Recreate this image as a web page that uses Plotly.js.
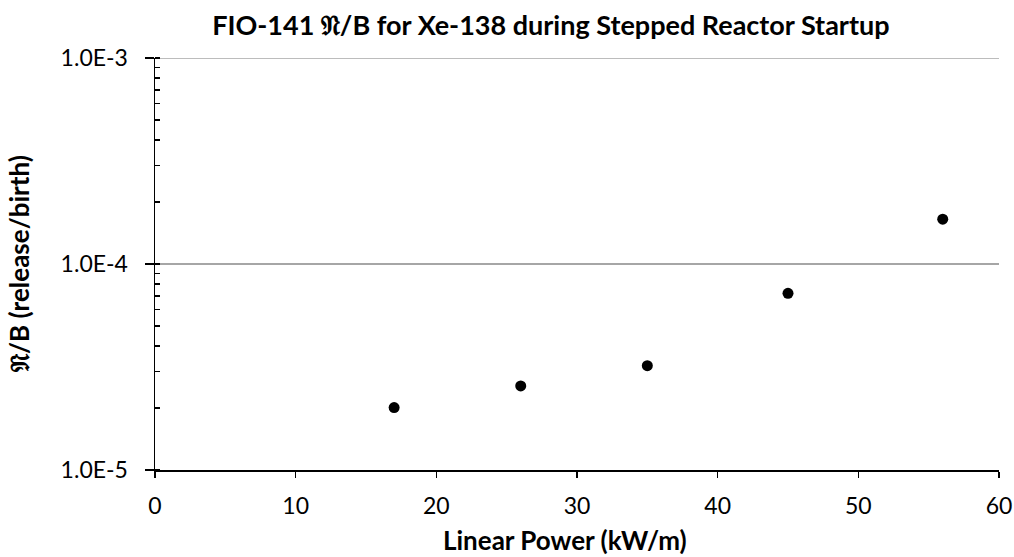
<!DOCTYPE html>
<html>
<head>
<meta charset="utf-8">
<script src="https://cdn.plot.ly/plotly-3.0.1.min.js"></script>
<style>html,body{margin:0;padding:0;background:#fff;}#chart{width:1014px;height:557px;}</style>
</head>
<body>
<div id="chart"></div>
<script>
const linearPower = [17, 26, 35, 45, 56];
const releaseBirth = [2.01e-5, 2.56e-5, 3.21e-5, 7.21e-5, 1.65e-4];
const yTickVals = [1e-5, 1e-4, 1e-3];
const yTickText = ['1.0E-5', '1.0E-4', '1.0E-3'];
const xTickVals = [0, 10, 20, 30, 40, 50, 60];
const chartTitle = 'FIO-141 𝔑/B for Xe-138 during Stepped Reactor Startup';
const xTitle = 'Linear Power (kW/m)';
const yTitle = '𝔑/B (release/birth)';

const FONT = 'Lato, "Open Sans", "DejaVu Sans", sans-serif';

const trace = {
  x: linearPower,
  y: releaseBirth,
  type: 'scatter',
  mode: 'markers',
  marker: {color: '#000000', size: 11},
  showlegend: false,
  cliponaxis: false
};

const layout = {
  width: 1014,
  height: 557,
  margin: {l: 155, r: 15, t: 58, b: 87},
  paper_bgcolor: '#ffffff',
  plot_bgcolor: '#ffffff',
  font: {family: FONT, color: '#000000', size: 23},
  title: {
    text: '<b>' + chartTitle + '</b>',
    font: {family: FONT, size: 27, color: '#000000'},
    x: 0.469, xref: 'paper', xanchor: 'center',
    y: 0.955, yref: 'container', yanchor: 'middle'
  },
  xaxis: {
    range: [0, 60],
    tickvals: xTickVals,
    ticks: 'outside', ticklen: 6, tickwidth: 1.5, tickcolor: '#000',
    ticklabelstandoff: 9,
    showline: true, linecolor: '#000', linewidth: 1.5,
    showgrid: false, zeroline: false,
    tickfont: {family: FONT, size: 23, color: '#000'}
  },
  yaxis: {
    type: 'log',
    range: [-5, -3],
    tickvals: yTickVals,
    ticktext: yTickText,
    ticks: 'outside', ticklen: 9, tickwidth: 1.5, tickcolor: '#000',
    ticklabelstandoff: 12,
    minor: {ticks: 'inside', ticklen: 5, tickwidth: 1.2, tickcolor: '#000', dtick: 'D1', showgrid: false},
    showline: true, linecolor: '#000', linewidth: 1.5,
    showgrid: true, gridcolor: '#a6a6a6', gridwidth: 1.5,
    zeroline: false,
    tickfont: {family: FONT, size: 23, color: '#000'}
  },
  shapes: [
    {
      type: 'line', xref: 'paper', yref: 'y',
      x0: 0, x1: 1,
      y0: yTickVals[yTickVals.length - 1], y1: yTickVals[yTickVals.length - 1],
      line: {color: '#a6a6a6', width: 1.5},
      layer: 'below'
    }
  ],
  annotations: [
    {
      text: '<b>' + xTitle + '</b>',
      xref: 'paper', yref: 'paper',
      x: (565 - 155) / 844, y: -(540 - 470) / 412,
      xanchor: 'center', yanchor: 'middle',
      showarrow: false,
      font: {family: FONT, size: 26, color: '#000'}
    },
    {
      text: '<b>' + yTitle + '</b>',
      xref: 'paper', yref: 'paper',
      x: -(155 - 19) / 844, y: 0.5,
      xanchor: 'center', yanchor: 'middle',
      textangle: -90,
      showarrow: false,
      font: {family: FONT, size: 26, color: '#000'}
    }
  ]
};

Plotly.newPlot('chart', [trace], layout, {displayModeBar: false, staticPlot: true});
</script>
</body>
</html>
